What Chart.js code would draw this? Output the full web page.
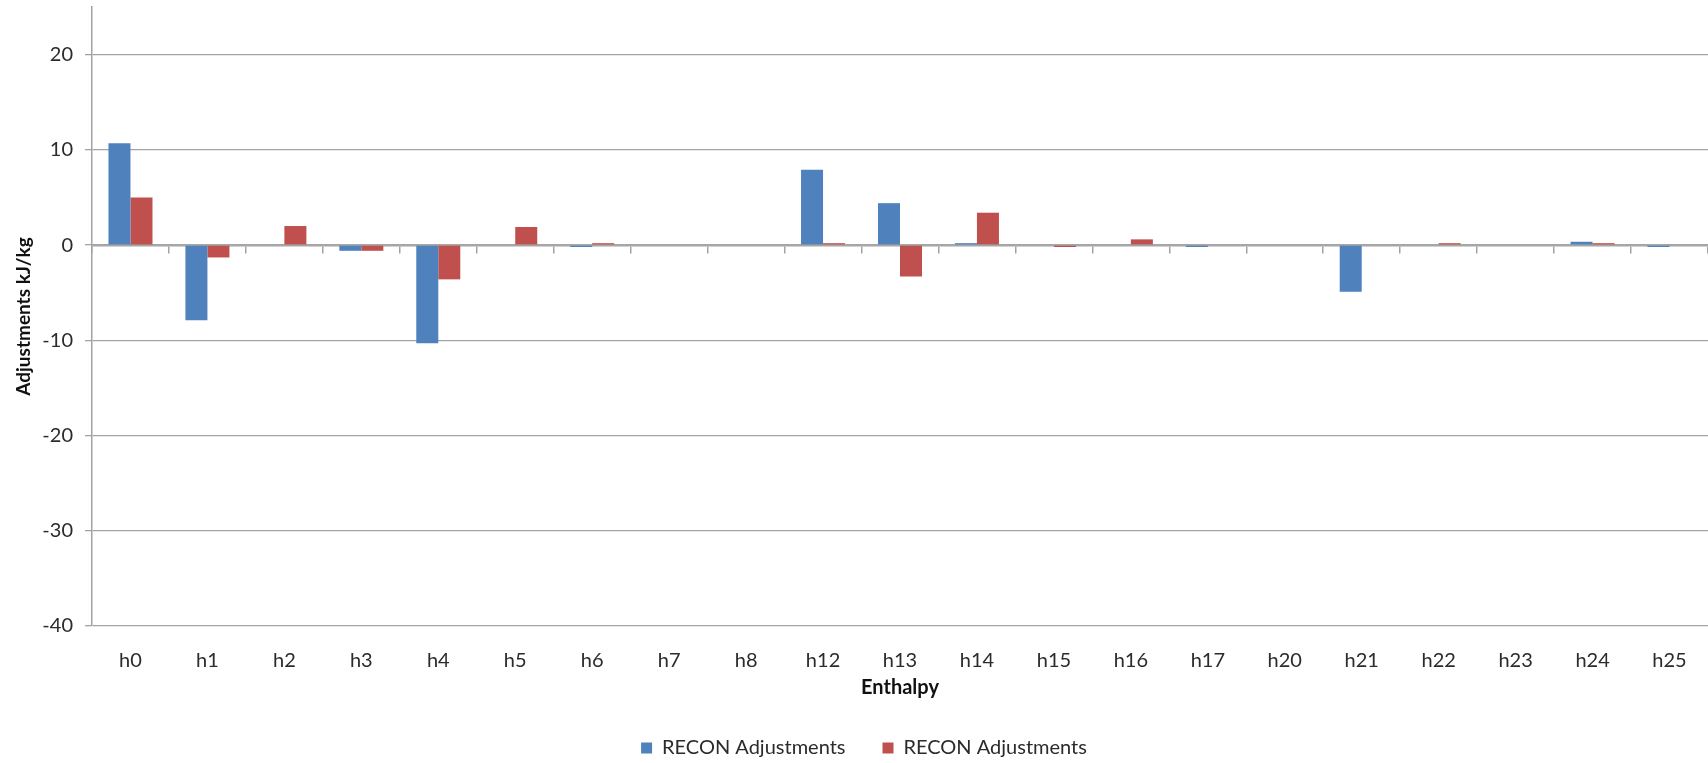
<!DOCTYPE html>
<html>
<head>
<meta charset="utf-8">
<script src="https://cdn.jsdelivr.net/npm/chart.js@4/dist/chart.umd.min.js"></script>
<style>
  html, body { margin: 0; padding: 0; background: #ffffff; }
  #wrap { width: 1708px; height: 763px; }
</style>
</head>
<body>
<div id="wrap"><canvas id="chart" width="1708" height="763"></canvas></div>
<script>
// Enthalpy adjustment categories
const categories = ['h0','h1','h2','h3','h4','h5','h6','h7','h8','h12','h13','h14','h15','h16','h17','h20','h21','h22','h23','h24','h25'];

// Adjustments in kJ/kg, first RECON series (blue)
const reconBlue = [10.7, -7.9, 0, -0.6, -10.3, 0, -0.2, 0, 0, 7.9, 4.4, 0.2, 0, 0, -0.2, 0, -4.9, 0, 0, 0.35, -0.2];

// Adjustments in kJ/kg, second RECON series (red)
const reconRed = [5.0, -1.3, 2.0, -0.6, -3.6, 1.9, 0.2, 0, 0, 0.2, -3.3, 3.4, -0.2, 0.6, 0, 0, 0, 0.2, 0, 0.2, 0];

const seriesNames = ['RECON Adjustments', 'RECON Adjustments'];

// Value axis range and labelled steps
const yMin = -40;
const yMax = 25;
const yStep = 10;

const textColor = '#2b2b2b';
const gridColor = '#a3a3a3';
const fontFamily = 'Lato, "Open Sans", "DejaVu Sans", sans-serif';

// nudges the legend row a little to the right of the canvas centre
const legendOffset = {
  id: 'legendOffset',
  afterLayout(chart) {
    if (chart.legend) {
      chart.legend.left += 10;
      chart.legend.right += 10;
    }
  }
};

new Chart(document.getElementById('chart'), {
  type: 'bar',
  data: {
    labels: categories,
    datasets: [
      {
        label: seriesNames[0],
        data: reconBlue,
        backgroundColor: '#4f81bd',
        borderWidth: 0,
        categoryPercentage: 0.572,
        barPercentage: 1.0
      },
      {
        label: seriesNames[1],
        data: reconRed,
        backgroundColor: '#c0504d',
        borderWidth: 0,
        categoryPercentage: 0.572,
        barPercentage: 1.0
      }
    ]
  },
  plugins: [legendOffset],
  options: {
    responsive: false,
    animation: false,
    devicePixelRatio: 1,
    layout: { padding: { top: 7, right: 0, bottom: -5, left: 0 } },
    plugins: {
      tooltip: { enabled: false },
      legend: {
        position: 'bottom',
        labels: {
          boxWidth: 11,
          boxHeight: 11,
          padding: 37,
          color: textColor,
          font: { family: fontFamily, size: 20 }
        }
      }
    },
    scales: {
      x: {
        type: 'category',
        offset: true,
        grid: { display: false, offset: true },
        border: { display: false },
        ticks: {
          color: textColor,
          padding: 15,
          maxRotation: 0,
          font: { family: fontFamily, size: 20 }
        },
        title: {
          display: true,
          text: 'Enthalpy',
          color: '#111',
          padding: { top: 4, bottom: 1 },
          font: { family: fontFamily, size: 20, weight: 'bold' }
        },
        afterFit: (s) => { s.height = 75; }
      },
      // category axis line with its tick marks, crossing at zero
      xZero: {
        type: 'category',
        axis: 'x',
        position: { y: 0 },
        offset: true,
        grid: {
          display: true,
          offset: true,
          drawOnChartArea: false,
          drawTicks: true,
          tickLength: 7,
          color: gridColor,
          lineWidth: 1.5
        },
        border: { display: true, color: '#a6a6a6', width: 2.5 },
        ticks: { display: false },
        afterFit: (s) => { s.height = 0; }
      },
      y: {
        min: yMin,
        max: yMax,
        ticks: {
          stepSize: yStep,
          color: textColor,
          padding: 12,
          font: { family: fontFamily, size: 20 }
        },
        afterBuildTicks: (s) => {
          s.ticks = s.ticks.filter(t => t.value % yStep === 0);
        },
        grid: {
          color: gridColor,
          lineWidth: 1.3,
          drawTicks: true,
          tickLength: 7
        },
        border: { display: true, color: gridColor, width: 1.5 },
        title: {
          display: true,
          text: 'Adjustments kJ/kg',
          color: '#111',
          padding: { top: 12, bottom: 0 },
          font: { family: fontFamily, size: 19, weight: 'bold' }
        },
        afterFit: (s) => {
          s.width = 92;
          s.paddingTop = 0;
          s.paddingBottom = 0;
        }
      }
    }
  }
});
</script>
</body>
</html>
